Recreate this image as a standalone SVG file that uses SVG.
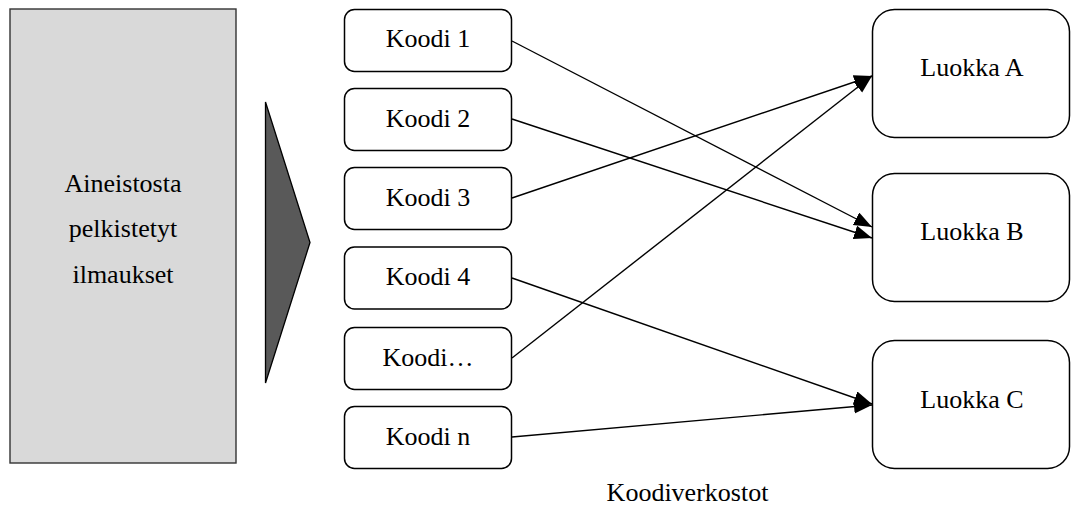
<svg xmlns="http://www.w3.org/2000/svg" width="1071" height="506" viewBox="0 0 1071 506">
  <style>
    text { font-family: "Liberation Serif", "Times New Roman", serif; font-size: 26px; fill: #000; text-anchor: middle; }
    .code { fill: #fff; stroke: #000; stroke-width: 1.5; }
    .cls { fill: #fff; stroke: #000; stroke-width: 1.5; }
    .edge { fill: none; stroke: #000; stroke-width: 1.4; marker-end: url(#arrow); }
  </style>
  <defs>
    <marker id="arrow" markerUnits="userSpaceOnUse" markerWidth="19" markerHeight="15" refX="18" refY="7" orient="auto">
      <path d="M0,0 L18,7 L0,14 z" fill="#000"/>
    </marker>
  </defs>
  <rect width="1071" height="506" fill="#fff"/>

  <!-- source material -->
  <g id="source">
    <rect x="10" y="9" width="226" height="454" fill="#d9d9d9" stroke="#333" stroke-width="1.4"/>
    <text x="123" y="192">Aineistosta</text>
    <text x="123" y="237">pelkistetyt</text>
    <text x="123" y="283">ilmaukset</text>
  </g>

  <!-- direction indicator -->
  <g id="pointer">
    <polygon points="265.5,102 310,242.5 265.5,383" fill="#595959" stroke="#000" stroke-width="1.3"/>
  </g>

  <!-- code nodes -->
  <g id="koodi1">
    <rect class="code" x="344.5" y="9.5" width="167" height="62" rx="10"/>
    <text x="428" y="47">Koodi 1</text>
  </g>
  <g id="koodi2">
    <rect class="code" x="344.5" y="88.5" width="167" height="62" rx="10"/>
    <text x="428" y="126.5">Koodi 2</text>
  </g>
  <g id="koodi3">
    <rect class="code" x="344.5" y="167.5" width="167" height="62" rx="10"/>
    <text x="428" y="205.5">Koodi 3</text>
  </g>
  <g id="koodi4">
    <rect class="code" x="344.5" y="247" width="167" height="62" rx="10"/>
    <text x="428" y="285">Koodi 4</text>
  </g>
  <g id="koodi-etc">
    <rect class="code" x="344.5" y="327.5" width="167" height="62" rx="10"/>
    <text x="428" y="365.5">Koodi…</text>
  </g>
  <g id="koodi-n">
    <rect class="code" x="344.5" y="406.5" width="167" height="62" rx="10"/>
    <text x="428" y="444.5">Koodi n</text>
  </g>

  <!-- category nodes -->
  <g id="luokka-a">
    <rect class="cls" x="872.5" y="9.5" width="197" height="128" rx="22"/>
    <text x="972" y="76">Luokka A</text>
  </g>
  <g id="luokka-b">
    <rect class="cls" x="872.5" y="173.5" width="197" height="128" rx="22"/>
    <text x="972" y="240">Luokka B</text>
  </g>
  <g id="luokka-c">
    <rect class="cls" x="872.5" y="340.5" width="197" height="128" rx="22"/>
    <text x="972" y="407.5">Luokka C</text>
  </g>

  <!-- connectors -->
  <g id="connectors">
    <line class="edge" x1="512" y1="41" x2="872" y2="227"/>
    <line class="edge" x1="512" y1="119" x2="872" y2="238"/>
    <line class="edge" x1="512" y1="198" x2="872" y2="76"/>
    <line class="edge" x1="512" y1="278" x2="872" y2="404"/>
    <line class="edge" x1="512" y1="358" x2="872" y2="76"/>
    <line class="edge" x1="512" y1="437" x2="872" y2="405"/>
  </g>

  <text x="687.5" y="501">Koodiverkostot</text>
</svg>
